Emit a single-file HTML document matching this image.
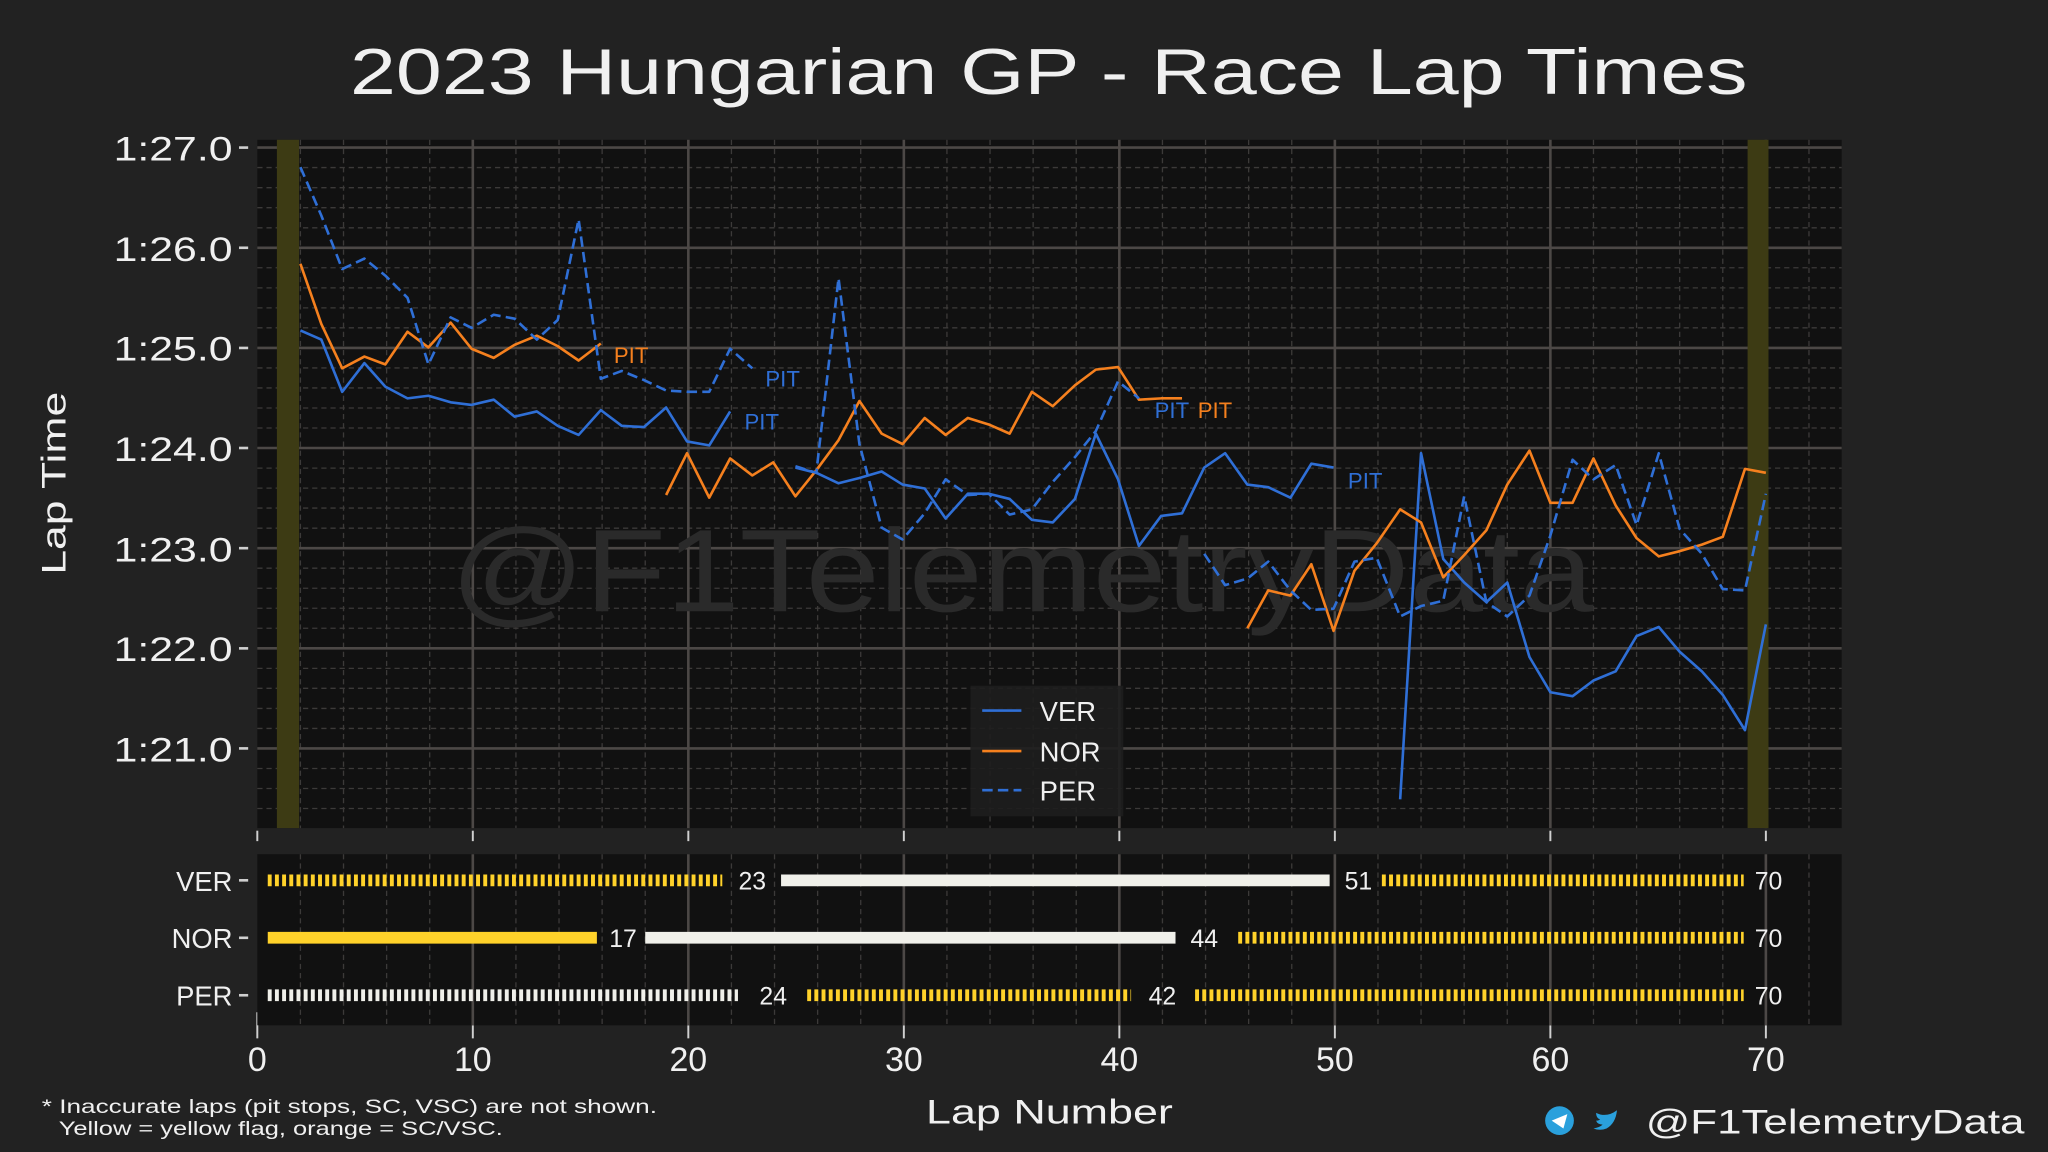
<!DOCTYPE html>
<html><head><meta charset="utf-8"><style>
html,body{margin:0;padding:0;background:#222222;}
svg{display:block;}
text{font-family:"Liberation Sans",sans-serif;}
</style></head><body>
<svg width="2048" height="1152" viewBox="0 0 1568 882" preserveAspectRatio="none" xmlns="http://www.w3.org/2000/svg">
<rect width="1568" height="882" fill="#222222"/>
<text x="268" y="72" fill="#f0f0f0" font-size="50" textLength="1070" lengthAdjust="spacingAndGlyphs">2023 Hungarian GP - Race Lap Times</text>

<!-- main axes -->
<rect x="197" y="107" width="1213" height="527" fill="#111111"/>
<g stroke="#3c3a39" stroke-width="1" stroke-dasharray="4,3">
<line x1="230" y1="107" x2="230" y2="634"/><line x1="263" y1="107" x2="263" y2="634"/><line x1="296" y1="107" x2="296" y2="634"/><line x1="329" y1="107" x2="329" y2="634"/>
<line x1="395" y1="107" x2="395" y2="634"/><line x1="428" y1="107" x2="428" y2="634"/><line x1="461" y1="107" x2="461" y2="634"/><line x1="494" y1="107" x2="494" y2="634"/>
<line x1="560" y1="107" x2="560" y2="634"/><line x1="593" y1="107" x2="593" y2="634"/><line x1="626" y1="107" x2="626" y2="634"/><line x1="659" y1="107" x2="659" y2="634"/>
<line x1="725" y1="107" x2="725" y2="634"/><line x1="758" y1="107" x2="758" y2="634"/><line x1="791" y1="107" x2="791" y2="634"/><line x1="824" y1="107" x2="824" y2="634"/>
<line x1="890" y1="107" x2="890" y2="634"/><line x1="923" y1="107" x2="923" y2="634"/><line x1="956" y1="107" x2="956" y2="634"/><line x1="989" y1="107" x2="989" y2="634"/>
<line x1="1055" y1="107" x2="1055" y2="634"/><line x1="1088" y1="107" x2="1088" y2="634"/><line x1="1121" y1="107" x2="1121" y2="634"/><line x1="1154" y1="107" x2="1154" y2="634"/>
<line x1="1220" y1="107" x2="1220" y2="634"/><line x1="1253" y1="107" x2="1253" y2="634"/><line x1="1286" y1="107" x2="1286" y2="634"/><line x1="1319" y1="107" x2="1319" y2="634"/>
<line x1="1385" y1="107" x2="1385" y2="634"/>
<line x1="197" y1="128.3" x2="1410" y2="128.3"/><line x1="197" y1="143.7" x2="1410" y2="143.7"/><line x1="197" y1="159" x2="1410" y2="159"/><line x1="197" y1="174.4" x2="1410" y2="174.4"/>
<line x1="197" y1="205" x2="1410" y2="205"/><line x1="197" y1="220.4" x2="1410" y2="220.4"/><line x1="197" y1="235.7" x2="1410" y2="235.7"/><line x1="197" y1="251" x2="1410" y2="251"/>
<line x1="197" y1="281.7" x2="1410" y2="281.7"/><line x1="197" y1="297" x2="1410" y2="297"/><line x1="197" y1="312.4" x2="1410" y2="312.4"/><line x1="197" y1="327.7" x2="1410" y2="327.7"/>
<line x1="197" y1="358.4" x2="1410" y2="358.4"/><line x1="197" y1="373.7" x2="1410" y2="373.7"/><line x1="197" y1="389" x2="1410" y2="389"/><line x1="197" y1="404.4" x2="1410" y2="404.4"/>
<line x1="197" y1="435" x2="1410" y2="435"/><line x1="197" y1="450.4" x2="1410" y2="450.4"/><line x1="197" y1="465.7" x2="1410" y2="465.7"/><line x1="197" y1="481" x2="1410" y2="481"/>
<line x1="197" y1="511.7" x2="1410" y2="511.7"/><line x1="197" y1="527" x2="1410" y2="527"/><line x1="197" y1="542.4" x2="1410" y2="542.4"/><line x1="197" y1="557.7" x2="1410" y2="557.7"/>
<line x1="197" y1="588.4" x2="1410" y2="588.4"/><line x1="197" y1="603.7" x2="1410" y2="603.7"/><line x1="197" y1="619" x2="1410" y2="619"/>
</g>
<g stroke="#4c4846" stroke-width="2">
<line x1="362" y1="107" x2="362" y2="634"/><line x1="527" y1="107" x2="527" y2="634"/><line x1="692" y1="107" x2="692" y2="634"/><line x1="857" y1="107" x2="857" y2="634"/><line x1="1022" y1="107" x2="1022" y2="634"/><line x1="1187" y1="107" x2="1187" y2="634"/><line x1="1352" y1="107" x2="1352" y2="634"/>
<line x1="197" y1="113" x2="1410" y2="113"/><line x1="197" y1="189.7" x2="1410" y2="189.7"/><line x1="197" y1="266.4" x2="1410" y2="266.4"/><line x1="197" y1="343" x2="1410" y2="343"/><line x1="197" y1="419.7" x2="1410" y2="419.7"/><line x1="197" y1="496.4" x2="1410" y2="496.4"/><line x1="197" y1="573" x2="1410" y2="573"/>
</g>
<rect x="212" y="107" width="17" height="527" fill="#3d3b14"/>
<rect x="1338" y="107" width="16" height="527" fill="#3d3b14"/>
<text x="345" y="468" fill="#2a2a2a" font-size="90" textLength="875" lengthAdjust="spacingAndGlyphs">@F1TelemetryData</text>

<g fill="none" stroke-width="2" stroke-linejoin="round">
<polyline stroke="#2f6fd6" points="230,253 246,260 262,300 279,278 295,296 312,305 328,303 345,308 361,310 378,306 394,319 411,315 427,326 443,333 460,314 476,326 493,327 510,312 526,338 543,341 559,315"/>
<polyline stroke="#2f6fd6" points="609,358 625,362 642,370 658,366 675,361 691,371 708,374 724,397 741,378 757,378 773,382 790,398 806,400 823,382 839,332 856,367 872,418 889,395 905,393 922,358 938,347 955,371 971,373 988,381 1004,355 1021,358"/>
<polyline stroke="#2f6fd6" points="1072,612 1088,347 1105,428 1121,446 1138,461 1154,446 1171,503 1187,530 1204,533 1220,521 1237,514 1253,487 1270,480 1286,499 1303,514 1319,532 1336,559 1352,478"/>
<polyline stroke="#f5801e" points="230,202 246,248 262,282 279,273 295,279 312,254 328,266 345,247 361,267 378,274 394,264 411,257 427,265 443,276 460,263"/>
<polyline stroke="#f5801e" points="510,379 526,347 543,381 559,351 576,364 592,354 609,380 625,360 642,337 658,307 675,332 691,340 708,320 724,333 741,320 757,325 773,332 790,300 806,311 823,295 839,283 856,281 872,306 889,305 905,305"/>
<polyline stroke="#f5801e" points="955,481 971,452 988,456 1004,432 1021,483 1037,437 1054,416 1072,390 1088,400 1105,442 1121,425 1138,406 1154,371 1171,345 1187,385 1204,385 1220,351 1237,387 1253,412 1270,426 1286,422 1303,417 1319,411 1336,359 1352,362"/>
<g stroke="#2f6fd6" stroke-dasharray="8,4">
<polyline points="230,128 246,165 262,206 279,198 295,211 312,228 328,279 345,243 361,251 378,241 394,244 411,260 427,245 443,168 460,290 476,284 493,291 510,299 526,300 543,300 559,267 576,282"/>
<polyline points="609,357 625,362 642,213 658,340 675,404 691,413 708,393 724,367 741,379 757,378 773,394 790,390 806,369 823,350 839,330 856,292 872,305"/>
<polyline points="922,424 938,448 955,443 971,430 988,452 1004,467 1021,466 1037,430 1054,427 1072,472 1088,464 1105,460 1121,380 1138,461 1154,472 1171,456 1187,410 1204,352 1220,367 1237,356 1253,402 1270,347 1286,405 1303,424 1319,451 1336,452 1352,378"/>
</g>
</g>
<g font-size="17">
<text x="470" y="278" fill="#f5801e">PIT</text>
<text x="570" y="329" fill="#2f6fd6">PIT</text>
<text x="586" y="296" fill="#2f6fd6">PIT</text>
<text x="884" y="320" fill="#2f6fd6">PIT</text>
<text x="917" y="320" fill="#f5801e">PIT</text>
<text x="1032" y="374" fill="#2f6fd6">PIT</text>
</g>
<!-- legend -->
<rect x="743" y="525" width="117" height="100" fill="#1e1e1e" opacity="0.9"/>
<line x1="752" y1="544" x2="782" y2="544" stroke="#2f6fd6" stroke-width="2"/>
<line x1="752" y1="575" x2="782" y2="575" stroke="#f5801e" stroke-width="2"/>
<line x1="752" y1="605" x2="782" y2="605" stroke="#2f6fd6" stroke-width="2" stroke-dasharray="8,4"/>
<g fill="#f0f0f0" font-size="21"><text x="796" y="552">VER</text><text x="796" y="583">NOR</text><text x="796" y="613">PER</text></g>

<!-- y ticks -->
<g fill="#f0f0f0" font-size="26">
<text x="87" y="123" textLength="91" lengthAdjust="spacingAndGlyphs">1:27.0</text><text x="87" y="200" textLength="91" lengthAdjust="spacingAndGlyphs">1:26.0</text><text x="87" y="276" textLength="91" lengthAdjust="spacingAndGlyphs">1:25.0</text><text x="87" y="353" textLength="91" lengthAdjust="spacingAndGlyphs">1:24.0</text><text x="87" y="430" textLength="91" lengthAdjust="spacingAndGlyphs">1:23.0</text><text x="87" y="506" textLength="91" lengthAdjust="spacingAndGlyphs">1:22.0</text><text x="87" y="583" textLength="91" lengthAdjust="spacingAndGlyphs">1:21.0</text>
</g>
<g stroke="#d0d0d0" stroke-width="2">
<line x1="183" y1="113" x2="190" y2="113"/><line x1="183" y1="189.7" x2="190" y2="189.7"/><line x1="183" y1="266.4" x2="190" y2="266.4"/><line x1="183" y1="343" x2="190" y2="343"/><line x1="183" y1="419.7" x2="190" y2="419.7"/><line x1="183" y1="496.4" x2="190" y2="496.4"/><line x1="183" y1="573" x2="190" y2="573"/>
</g>
<text x="50" y="370" fill="#f0f0f0" font-size="26" text-anchor="middle" textLength="140" lengthAdjust="spacingAndGlyphs" transform="rotate(-90 50 370)">Lap Time</text>
<g stroke="#d0d0d0" stroke-width="1.5">
<line x1="197" y1="636" x2="197" y2="644"/><line x1="362" y1="636" x2="362" y2="644"/><line x1="527" y1="636" x2="527" y2="644"/><line x1="692" y1="636" x2="692" y2="644"/><line x1="857" y1="636" x2="857" y2="644"/><line x1="1022" y1="636" x2="1022" y2="644"/><line x1="1187" y1="636" x2="1187" y2="644"/><line x1="1352" y1="636" x2="1352" y2="644"/>
<line x1="197" y1="775" x2="197" y2="795"/><line x1="362" y1="775" x2="362" y2="795"/><line x1="527" y1="775" x2="527" y2="795"/><line x1="692" y1="775" x2="692" y2="795"/><line x1="857" y1="775" x2="857" y2="795"/><line x1="1022" y1="775" x2="1022" y2="795"/><line x1="1187" y1="775" x2="1187" y2="795"/><line x1="1352" y1="775" x2="1352" y2="795"/>
</g>

<!-- lower panel -->
<rect x="197" y="654" width="1213" height="131" fill="#111111"/>
<g stroke="#3c3a39" stroke-width="1" stroke-dasharray="4,3">
<line x1="230" y1="654" x2="230" y2="785"/><line x1="263" y1="654" x2="263" y2="785"/><line x1="296" y1="654" x2="296" y2="785"/><line x1="329" y1="654" x2="329" y2="785"/><line x1="395" y1="654" x2="395" y2="785"/><line x1="428" y1="654" x2="428" y2="785"/><line x1="461" y1="654" x2="461" y2="785"/><line x1="494" y1="654" x2="494" y2="785"/><line x1="560" y1="654" x2="560" y2="785"/><line x1="593" y1="654" x2="593" y2="785"/><line x1="626" y1="654" x2="626" y2="785"/><line x1="659" y1="654" x2="659" y2="785"/><line x1="725" y1="654" x2="725" y2="785"/><line x1="758" y1="654" x2="758" y2="785"/><line x1="791" y1="654" x2="791" y2="785"/><line x1="824" y1="654" x2="824" y2="785"/><line x1="890" y1="654" x2="890" y2="785"/><line x1="923" y1="654" x2="923" y2="785"/><line x1="956" y1="654" x2="956" y2="785"/><line x1="989" y1="654" x2="989" y2="785"/><line x1="1055" y1="654" x2="1055" y2="785"/><line x1="1088" y1="654" x2="1088" y2="785"/><line x1="1121" y1="654" x2="1121" y2="785"/><line x1="1154" y1="654" x2="1154" y2="785"/><line x1="1220" y1="654" x2="1220" y2="785"/><line x1="1253" y1="654" x2="1253" y2="785"/><line x1="1286" y1="654" x2="1286" y2="785"/><line x1="1319" y1="654" x2="1319" y2="785"/><line x1="1385" y1="654" x2="1385" y2="785"/>
</g>
<g stroke="#4c4846" stroke-width="2">
<line x1="362" y1="654" x2="362" y2="785"/><line x1="527" y1="654" x2="527" y2="785"/><line x1="692" y1="654" x2="692" y2="785"/><line x1="857" y1="654" x2="857" y2="785"/><line x1="1022" y1="654" x2="1022" y2="785"/><line x1="1187" y1="654" x2="1187" y2="785"/><line x1="1352" y1="654" x2="1352" y2="785"/>
</g>
<g stroke-width="9">
<line x1="205" y1="674" x2="553" y2="674" stroke="#ffd22a" stroke-dasharray="3,2.5"/>
<line x1="598" y1="674" x2="1018" y2="674" stroke="#f0f0ea"/>
<line x1="1058" y1="674" x2="1335" y2="674" stroke="#ffd22a" stroke-dasharray="3,2.5"/>
<line x1="205" y1="718" x2="457" y2="718" stroke="#ffd22a"/>
<line x1="494" y1="718" x2="900" y2="718" stroke="#f0f0ea"/>
<line x1="948" y1="718" x2="1335" y2="718" stroke="#ffd22a" stroke-dasharray="3,2.5"/>
<line x1="205" y1="762" x2="565" y2="762" stroke="#f0f0ea" stroke-dasharray="3,2.5"/>
<line x1="618" y1="762" x2="866" y2="762" stroke="#ffd22a" stroke-dasharray="3,2.5"/>
<line x1="915" y1="762" x2="1335" y2="762" stroke="#ffd22a" stroke-dasharray="3,2.5"/>
</g>
<g fill="#f0f0f0" font-size="19" text-anchor="middle">
<text x="576" y="681">23</text><text x="1040" y="681">51</text><text x="1354" y="681">70</text>
<text x="477" y="725">17</text><text x="922" y="725">44</text><text x="1354" y="725">70</text>
<text x="592" y="769">24</text><text x="890" y="769">42</text><text x="1354" y="769">70</text>
</g>
<g fill="#f0f0f0" font-size="21" text-anchor="end">
<text x="178" y="682">VER</text><text x="178" y="726">NOR</text><text x="178" y="770">PER</text>
</g>
<g stroke="#d0d0d0" stroke-width="2"><line x1="183" y1="674" x2="190" y2="674"/><line x1="183" y1="718" x2="190" y2="718"/><line x1="183" y1="762" x2="190" y2="762"/></g>
<g fill="#f0f0f0" font-size="26" text-anchor="middle">
<text x="197" y="820">0</text><text x="362" y="820">10</text><text x="527" y="820">20</text><text x="692" y="820">30</text><text x="857" y="820">40</text><text x="1022" y="820">50</text><text x="1187" y="820">60</text><text x="1352" y="820">70</text>
</g>
<text x="709" y="860" fill="#f0f0f0" font-size="26" textLength="189" lengthAdjust="spacingAndGlyphs">Lap Number</text>
<g fill="#f0f0f0" font-size="15"><text x="32" y="852" textLength="471" lengthAdjust="spacingAndGlyphs">* Inaccurate laps (pit stops, SC, VSC) are not shown.</text><text x="45" y="869" textLength="340" lengthAdjust="spacingAndGlyphs">Yellow = yellow flag, orange = SC/VSC.</text></g>
<circle cx="1194" cy="858" r="11" fill="#2aa0dc"/>
<path d="M1188,858 L1200,853 L1197,864 Z" fill="#ffffff"/>
<path d="M1222,852 q8,4 16,-2 q-1,10 -8,14 q-5,2 -10,0 q5,-1 7,-3 q-4,0 -5,-3 q2,0 3,-1 q-3,-1 -3,-5 z" fill="#2aa0dc"/>
<text x="1260" y="868" fill="#f0f0f0" font-size="26" textLength="290" lengthAdjust="spacingAndGlyphs">@F1TelemetryData</text>
</svg>
</body></html>
